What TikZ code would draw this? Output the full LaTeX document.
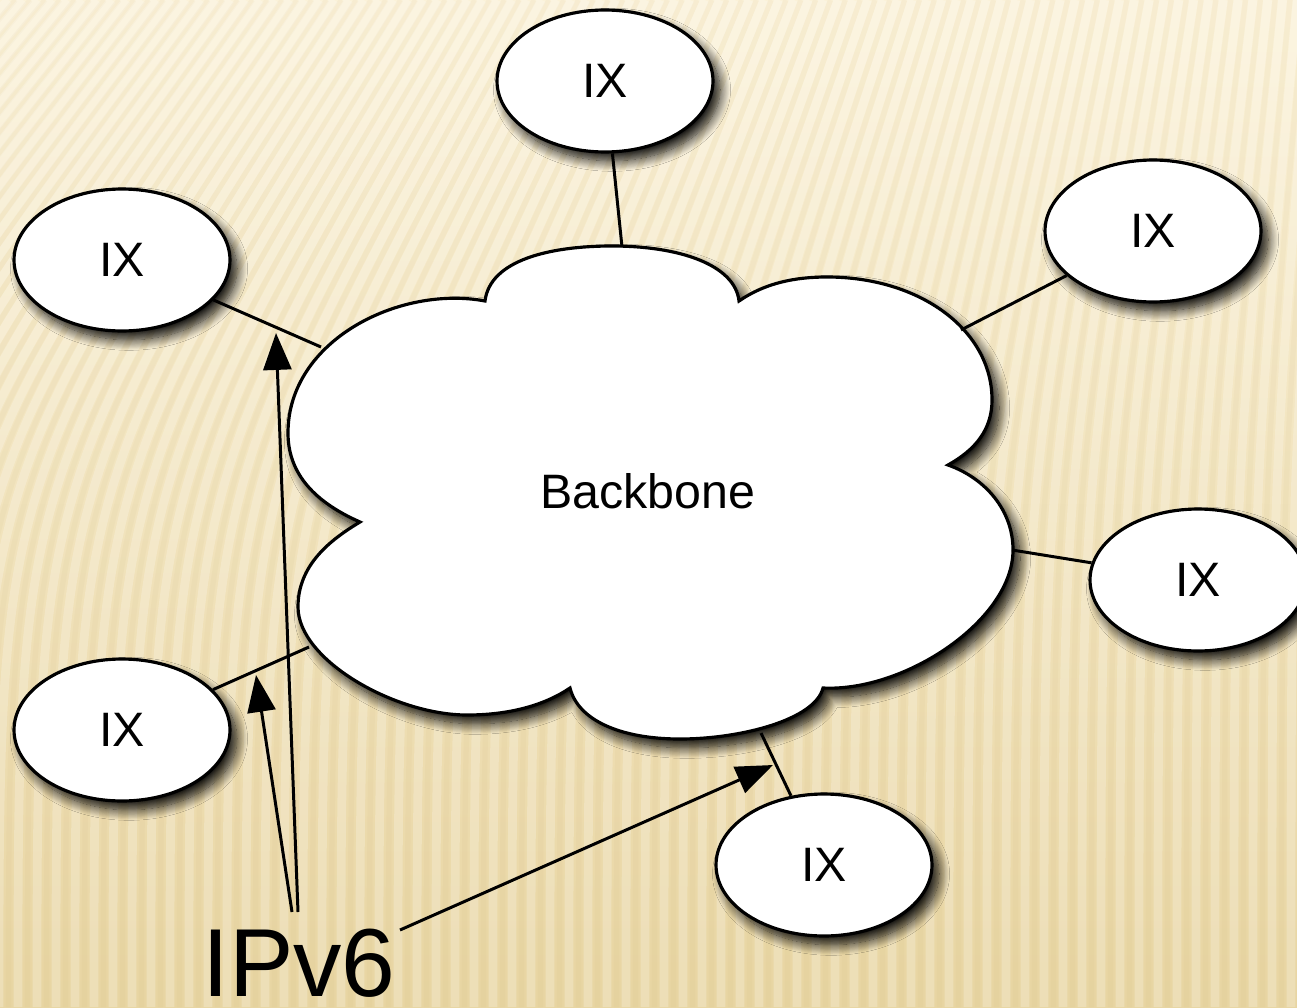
\documentclass[tikz,border=0pt]{standalone}
\usepackage{fontspec}
\setmainfont{Liberation Sans}
\usetikzlibrary{shapes.geometric,arrows.meta,shadows.blur}
\definecolor{bgtop}{HTML}{FBF2D9}
\definecolor{bgbot}{HTML}{E8D5A2}
\definecolor{stripedark}{HTML}{C9B27A}
\begin{document}
\begin{tikzpicture}[x=0.02cm,y=-0.02cm,
  softshadow/.style={blur shadow={shadow xshift=4pt, shadow yshift=-5pt, shadow blur radius=6pt, shadow blur steps=14, shadow opacity=95}},
  ix/.style={ellipse, draw=black, line width=1.8pt, fill=white, minimum width=4.32cm, minimum height=2.84cm, inner sep=0pt, softshadow, font=\fontsize{27.5}{33}\selectfont},
  cloudshape/.style={draw=black, line width=1.8pt, fill=white, miter limit=4, softshadow},
  conn/.style={draw=black, line width=1.7pt},
  arr/.style={draw=black, line width=1.7pt, -{Triangle[length=21pt,width=16pt]}},
  lbl/.style={inner sep=0pt, font=\fontsize{27.5}{33}\selectfont},
  biglbl/.style={inner sep=0pt, font=\fontsize{55}{66}\selectfont}]
\useasboundingbox (0,0) rectangle (1297,1007);
% background
\shade[top color=bgtop, bottom color=bgbot] (0,0) rectangle (1297,1007);
\begin{scope}
  \clip (0,0) rectangle (1297,1007);
  \foreach \x in {-400,-381,...,1400} {
    \draw[white, opacity=0.22, line width=5pt] (\x,1007) .. controls (\x,480) .. ({\x+320-0.22*\x},0);
    \draw[stripedark, opacity=0.08, line width=3pt] ({\x+9.5},1007) .. controls ({\x+9.5},480) .. ({\x+9.5+320-0.22*(\x+9.5)},0);
  }
\end{scope}
% cloud
\path[cloudshape] (360,522) .. controls (310,500) and (288,470) .. (288,433)
  .. controls (288,340) and (400,285) .. (485,301)
  .. controls (490,260) and (550,246) .. (612,246)
  .. controls (680,246) and (735,265) .. (739,301)
  .. controls (765,283) and (795,277) .. (827,277)
  .. controls (920,277) and (992,330) .. (992,400)
  .. controls (992,430) and (975,450) .. (948,465)
  .. controls (985,478) and (1013,510) .. (1013,550)
  .. controls (1013,620) and (905,692) .. (823,688)
  .. controls (815,720) and (740,739) .. (680,739)
  .. controls (620,739) and (578,720) .. (570,688)
  .. controls (545,705) and (510,715) .. (467,715)
  .. controls (395,715) and (298,660) .. (298,607)
  .. controls (298,565) and (330,540) .. (360,522) -- cycle;
\node[lbl] (bb) at (648,491) {Backbone};
% attachment points on the cloud
\coordinate (cT) at (622,247);
\coordinate (cUL) at (321,347);
\coordinate (cUR) at (961,330);
\coordinate (cR) at (1012,550);
\coordinate (cLL) at (309,647);
\coordinate (cB) at (761,733);
% IX nodes
\node[ix] (ixT) at (605,81) {IX};
\node[ix] (ixUL) at (122,260) {IX};
\node[ix] (ixUR) at (1153,231) {IX};
\node[ix] (ixR) at (1198,580) {IX};
\node[ix] (ixLL) at (122,730) {IX};
\node[ix] (ixB) at (824,865) {IX};
% connectors
\draw[conn] (ixT) -- (cT);
\draw[conn] (ixUL) -- (cUL);
\draw[conn] (ixUR) -- (cUR);
\draw[conn] (ixR) -- (cR);
\draw[conn] (ixLL) -- (cLL);
\draw[conn] (ixB) -- (cB);
% IPv6 label and arrows
\node[biglbl] (ipv6) at (299,963) {IPv6};
\coordinate (s1) at (298,912);
\coordinate (e1) at (276,333);
\coordinate (s2) at (292,912);
\coordinate (e2) at (256,675);
\coordinate (s3) at (400,930);
\coordinate (e3) at (773,765);
\draw[arr] (s1) -- (e1);
\draw[arr] (s2) -- (e2);
\draw[arr] (s3) -- (e3);
\end{tikzpicture}
\end{document}
